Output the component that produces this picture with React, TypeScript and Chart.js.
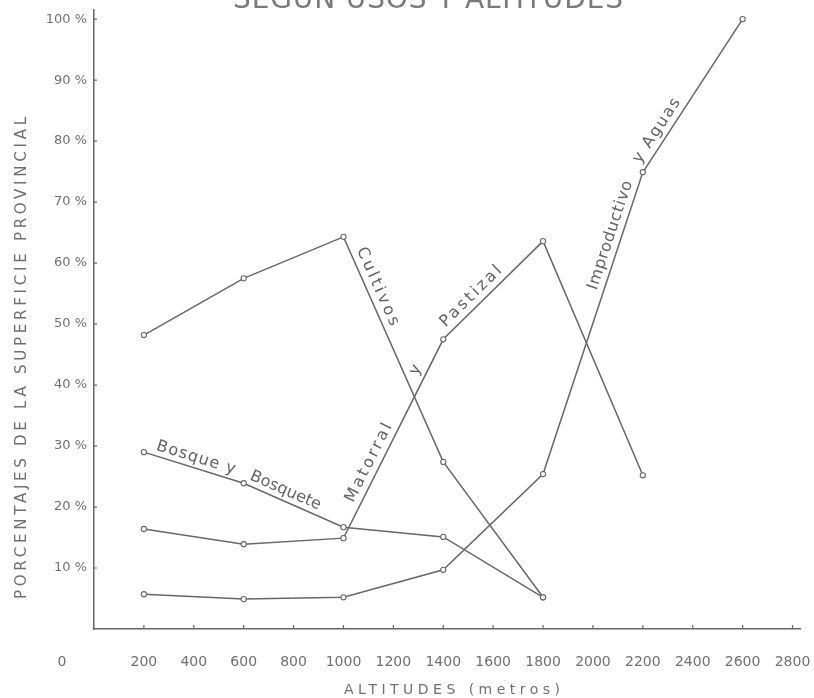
import React, { useEffect, useRef } from "react";
import { Chart, registerables } from "chart.js";

Chart.register(...registerables);

// ---- data ----
const altitudes = [200, 600, 1000, 1400, 1800, 2200, 2600];
const cultivos = [48.2, 57.5, 64.3, 27.4, 5.2];
const bosque = [29.0, 23.9, 16.7, 15.1, 5.2];
const matorral = [16.4, 13.9, 14.9, 47.5, 63.6, 25.2];
const improductivo = [5.7, 4.9, 5.2, 9.7, 25.4, 74.9, 100];

const xTickValues = [0, 200, 400, 600, 800, 1000, 1200, 1400, 1600, 1800, 2000, 2200, 2400, 2600, 2800];
const yTickValues = [10, 20, 30, 40, 50, 60, 70, 80, 90, 100];

const title = "SEGUN USOS Y ALTITUDES";
const xTitle = "ALTITUDES (metros)";
const yTitle = "PORCENTAJES DE LA SUPERFICIE PROVINCIAL";
const originLabel = "0";

// line annotations: dataset index, segment, start fraction, text, offset, length along line
const lineLabels = [
  { ds: 1, seg: 0, t: 0.1, text: "Bosque y", off: 2, len: 82 },
  { ds: 1, seg: 1, t: 0.03, text: "Bosquete", off: 2, len: 76 },
  { ds: 0, seg: 2, t: 0.07, text: "Cultivos", off: 3, len: 84 },
  { ds: 2, seg: 2, t: 0.16, text: "Matorral", off: 3, len: 86 },
  { ds: 2, seg: 2, t: 0.8, text: "y", off: 3, len: 0 },
  { ds: 2, seg: 3, t: 0.07, text: "Pastizal", off: 3, len: 80 },
  { ds: 3, seg: 4, t: 0.6, text: "Improductivo", off: 3, len: 114 },
  { ds: 3, seg: 5, t: 0.03, text: "y Aguas", off: 3, len: 74 },
];

const FONT = "'DejaVu Sans', sans-serif";
const LINE = "#676767";
const TEXT = "#707070";

const toPoints = (vals: number[]) => vals.map((v, i) => ({ x: altitudes[i], y: v }));

function spacedText(
  ctx: CanvasRenderingContext2D,
  text: string,
  target: number
) {
  (ctx as any).letterSpacing = "0px";
  const w0 = ctx.measureText(text).width;
  const sp = Math.max(0, (target - w0) / Math.max(1, text.length - 1));
  (ctx as any).letterSpacing = sp + "px";
  return w0 + sp * (text.length - 1);
}

const decorPlugin = {
  id: "decor",
  afterDatasetsDraw(chart: any) {
    const ctx: CanvasRenderingContext2D = chart.ctx;
    const xs = chart.scales.x;
    const ys = chart.scales.y;
    const area = chart.chartArea;
    ctx.save();
    // tick marks
    ctx.strokeStyle = LINE;
    ctx.lineWidth = 1.2;
    ctx.beginPath();
    yTickValues.forEach((v) => {
      const y = ys.getPixelForValue(v);
      ctx.moveTo(area.left - 1, y);
      ctx.lineTo(area.left + 3, y);
    });
    xTickValues.forEach((v) => {
      if (v === 0) return;
      const x = xs.getPixelForValue(v);
      ctx.moveTo(x, area.bottom);
      ctx.lineTo(x, area.bottom - 4);
    });
    ctx.stroke();

    ctx.fillStyle = TEXT;
    // origin label
    ctx.font = "14px " + FONT;
    ctx.textAlign = "center";
    ctx.textBaseline = "middle";
    ctx.fillText(originLabel, area.left - 32, area.bottom + 33);

    // x title
    ctx.font = "14px " + FONT;
    ctx.textAlign = "left";
    let w = spacedText(ctx, xTitle, 216);
    ctx.fillText(xTitle, 452 - w / 2, 690);

    // y title
    ctx.save();
    ctx.translate(22, 358);
    ctx.rotate(-Math.PI / 2);
    ctx.font = "15px " + FONT;
    w = spacedText(ctx, yTitle, 482);
    ctx.fillText(yTitle, -w / 2, 0);
    ctx.restore();

    // main title (cut at top)
    ctx.font = "28px " + FONT;
    ctx.textBaseline = "alphabetic";
    w = spacedText(ctx, title, 390);
    ctx.fillStyle = "#7a7a7a";
    ctx.fillText(title, 428 - w / 2, 8);

    // line labels
    ctx.fillStyle = "#626262";
    ctx.font = "16px " + FONT;
    ctx.textAlign = "left";
    ctx.textBaseline = "bottom";
    lineLabels.forEach((l) => {
      const meta = chart.getDatasetMeta(l.ds);
      const a = meta.data[l.seg];
      const b = meta.data[l.seg + 1];
      if (!a || !b) return;
      const ang = Math.atan2(b.y - a.y, b.x - a.x);
      const px = a.x + (b.x - a.x) * l.t;
      const py = a.y + (b.y - a.y) * l.t;
      ctx.save();
      ctx.translate(px, py);
      ctx.rotate(ang);
      if (l.len > 0) spacedText(ctx, l.text, l.len);
      else (ctx as any).letterSpacing = "0px";
      ctx.fillText(l.text, 0, -l.off);
      ctx.restore();
    });
    ctx.restore();
  },
};

export default function App() {
  const ref = useRef<HTMLCanvasElement | null>(null);

  useEffect(() => {
    document.body.style.margin = "0";
    if (!ref.current) return;
    const mk = (label: string, vals: number[]) => ({
      label,
      data: toPoints(vals),
      borderColor: LINE,
      borderWidth: 1.5,
      pointRadius: 2.6,
      pointBorderWidth: 1.1,
      pointBackgroundColor: "#ffffff",
      pointBorderColor: LINE,
      tension: 0,
      fill: false,
    });
    const chart = new Chart(ref.current, {
      type: "line",
      data: {
        datasets: [
          mk("Cultivos", cultivos),
          mk("Bosque y Bosquete", bosque),
          mk("Matorral y Pastizal", matorral),
          mk("Improductivo y Aguas", improductivo),
        ],
      },
      options: {
        animation: false,
        responsive: false,
        devicePixelRatio: 1,
        layout: { padding: { top: 10, right: 14, left: 0, bottom: 0 }, autoPadding: false },
        plugins: { legend: { display: false }, tooltip: { enabled: false } },
        scales: {
          x: {
            type: "linear",
            min: 0,
            max: 2830,
            afterBuildTicks: (s: any) => {
              s.ticks = xTickValues.map((v) => ({ value: v }));
            },
            afterFit: (s: any) => {
              s.height = 69;
              s.paddingLeft = 0;
              s.paddingRight = 0;
              s.paddingTop = 0;
              s.paddingBottom = 0;
            },
            grid: { display: false, drawTicks: false },
            border: { display: true, color: LINE, width: 1.5 },
            ticks: {
              padding: 25,
              maxRotation: 0,
              autoSkip: false,
              color: TEXT,
              font: { family: FONT, size: 14 },
              callback: (v: any) => (v === 0 ? "" : String(v)),
            },
          },
          y: {
            min: 0,
            max: 101.5,
            afterBuildTicks: (s: any) => {
              s.ticks = yTickValues.map((v) => ({ value: v }));
            },
            afterFit: (s: any) => {
              s.width = 94;
              s.paddingLeft = 0;
              s.paddingRight = 0;
              s.paddingTop = 0;
              s.paddingBottom = 0;
            },
            grid: { display: false, drawTicks: false },
            border: { display: true, color: LINE, width: 1.5 },
            ticks: {
              padding: 7,
              autoSkip: false,
              color: TEXT,
              font: { family: FONT, size: 13 },
              callback: (v: any) => v + " %",
            },
          },
        },
      },
      plugins: [decorPlugin],
    } as any);
    return () => chart.destroy();
  }, []);

  return (
    <div style={{ position: "absolute", left: 0, top: 0, width: 814, height: 698, background: "#fff" }}>
      <canvas ref={ref} width={814} height={698} />
    </div>
  );
}
